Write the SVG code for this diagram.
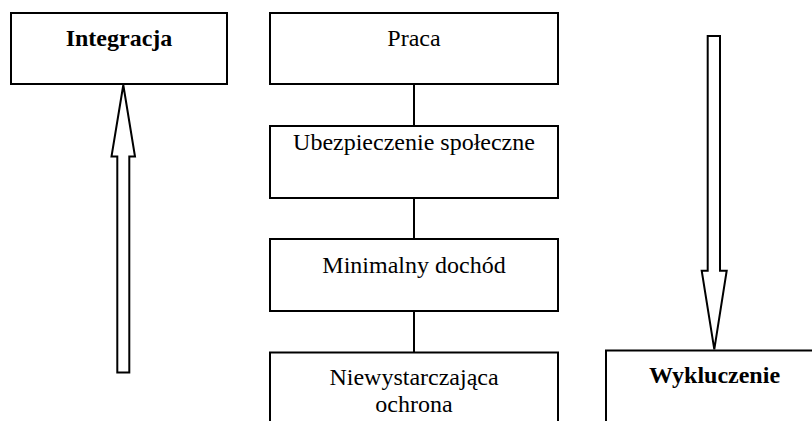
<svg xmlns="http://www.w3.org/2000/svg" width="812" height="421" viewBox="0 0 812 421">
<style>
.box{fill:#fff;stroke:#000;stroke-width:2}
.t{font-family:"Liberation Serif","Times New Roman",serif;font-size:24px;fill:#000;text-anchor:middle}
.b{font-weight:bold}
.conn{stroke:#000;stroke-width:2;fill:none}
.arr{fill:#fff;stroke:#000;stroke-width:2;stroke-linejoin:miter}
</style>
<rect width="812" height="421" fill="#fff"/>
<g id="connectors">
<line class="conn" x1="414" y1="84" x2="414" y2="126"/>
<line class="conn" x1="414" y1="198" x2="414" y2="239"/>
<line class="conn" x1="414" y1="311" x2="414" y2="352"/>
<polygon id="arrow-up" class="arr" points="123.3,85 135,156.5 129.3,156.5 129.3,372.5 117.3,372.5 117.3,156.5 111.5,156.5"/>
<polygon id="arrow-down" class="arr" points="707.7,36 720,36 720,270.7 726.7,270.7 714.3,349.3 701.7,270.7 707.7,270.7"/>
</g>
<g id="integracja">
<rect class="box" x="11" y="13" width="216" height="71"/>
<text class="t b" x="119" y="46">Integracja</text>
</g>
<g id="praca">
<rect class="box" x="270" y="13" width="288" height="71"/>
<text class="t" x="414" y="46">Praca</text>
</g>
<g id="ubezpieczenie">
<rect class="box" x="270" y="126" width="288" height="72"/>
<text class="t" x="414" y="150">Ubezpieczenie społeczne</text>
</g>
<g id="minimalny">
<rect class="box" x="270" y="239" width="288" height="72"/>
<text class="t" x="414" y="273">Minimalny dochód</text>
</g>
<g id="niewystarczajaca">
<rect class="box" x="270" y="352.5" width="288" height="80"/>
<text class="t" x="414" y="385">Niewystarczająca</text>
<text class="t" x="414" y="411.7">ochrona</text>
</g>
<g id="wykluczenie">
<rect class="box" x="606" y="350.5" width="216" height="80"/>
<text class="t b" x="714.5" y="383.3">Wykluczenie</text>
</g>
</svg>
